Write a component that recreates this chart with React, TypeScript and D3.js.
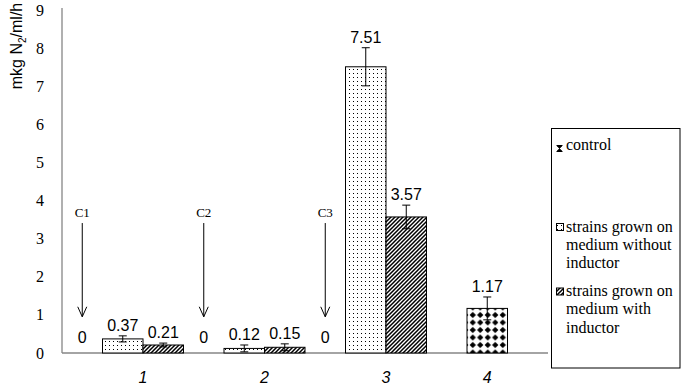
import React from "react";
import * as d3 from "d3";

const categories = ["1", "2", "3", "4"];
const seriesKeys = ["control", "without", "with"];
const legendLabels = [
  ["control"],
  ["strains grown on", "medium without", "inductor"],
  ["strains grown on", "medium with", "inductor"],
];
const controlValues: (number | null)[] = [0, 0, 0, null];
const withoutValues: (number | null)[] = [0.37, 0.12, 7.51, 1.17];
const withoutErrors: (number | null)[] = [0.08, 0.09, 0.5, 0.3];
const withValues: (number | null)[] = [0.21, 0.15, 3.57, null];
const withErrors: (number | null)[] = [0.05, 0.09, 0.31, null];
const yTicks = [0, 1, 2, 3, 4, 5, 6, 7, 8, 9];
const controlNotes = ["C1", "C2", "C3"];
const noteArrowTop = 3.41;
const noteArrowBottom = 0.95;
const noteLabelValue = 3.57;

const W = 684;
const H = 390;
const left = 62;
const right = 548;
const top = 10;
const bottom = 353;

const SANS = "Liberation Sans, Arial, sans-serif";
const SERIF = "Liberation Serif, Times New Roman, DejaVu Serif, serif";

export default function App() {
  const x0 = d3.scaleBand<string>().domain(categories).range([left, right]).padding(0);
  const x1 = d3.scaleBand<string>().domain(seriesKeys).range([0, x0.bandwidth()]).padding(0);
  const y = d3.scaleLinear().domain([0, 9]).range([bottom, top]);
  const bw = x1.bandwidth();

  const seriesData: { key: string; values: (number | null)[]; errors: (number | null)[] }[] = [
    { key: "control", values: controlValues, errors: controlValues.map(() => null) },
    { key: "without", values: withoutValues, errors: withoutErrors },
    { key: "with", values: withValues, errors: withErrors },
  ];

  const fillFor = (key: string, cat: string) => {
    if (key === "without") return cat === "4" ? "url(#diamond)" : "url(#dots)";
    if (key === "with") return "url(#hatch)";
    return "none";
  };

  const marks: React.ReactNode[] = [];
  const labels: React.ReactNode[] = [];
  categories.forEach((cat, ci) => {
    seriesData.forEach((s) => {
      const v = s.values[ci];
      if (v === null || v === undefined) return;
      const bx = (x0(cat) as number) + (x1(s.key) as number);
      const cx = bx + bw / 2;
      if (v > 0) {
        marks.push(
          <rect key={`b-${cat}-${s.key}`} x={bx} y={y(v)} width={bw} height={y(0) - y(v)}
            fill={fillFor(s.key, cat)} stroke="#000" strokeWidth={1} />
        );
      }
      const e = s.errors[ci];
      let labelY = y(0) - 10.5;
      if (e !== null && e !== undefined) {
        const yt = y(v + e);
        const yb = y(Math.max(0, v - e));
        marks.push(
          <g key={`e-${cat}-${s.key}`} stroke="#000" strokeWidth={1}>
            <line x1={cx} x2={cx} y1={yt} y2={yb} />
            <line x1={cx - 4} x2={cx + 4} y1={yt} y2={yt} />
            <line x1={cx - 4} x2={cx + 4} y1={yb} y2={yb} />
          </g>
        );
        labelY = yt - 5;
      }
      labels.push(
        <text key={`l-${cat}-${s.key}`} x={cx} y={labelY} textAnchor="middle"
          style={{ fontFamily: SANS, fontSize: 16 }} fill="#000">{String(v)}</text>
      );
    });
  });

  const catLabels = categories.map((cat, ci) => {
    const present = seriesData.filter((s) => s.key !== "control" && s.values[ci] !== null);
    const xs = present.map((s) => (x0(cat) as number) + (x1(s.key) as number));
    const cx = (d3.min(xs)! + d3.max(xs)! + bw) / 2;
    return (
      <text key={`c-${cat}`} x={cx} y={383} textAnchor="middle"
        style={{ fontFamily: SANS, fontSize: 16, fontStyle: "italic" }} fill="#000">{cat}</text>
    );
  });

  const notes = controlNotes.map((n, i) => {
    const cx = (x0(categories[i]) as number) + (x1("control") as number) + bw / 2;
    const yTop = y(noteArrowTop);
    const yBot = y(noteArrowBottom);
    return (
      <g key={`n-${n}`}>
        <text x={cx} y={y(noteLabelValue)} textAnchor="middle" style={{ fontFamily: SERIF, fontSize: 13 }} fill="#000">{n}</text>
        <line x1={cx} x2={cx} y1={yTop} y2={yBot} stroke="#000" strokeWidth={1} />
        <path d={`M${cx - 4.5},${yBot - 10}L${cx},${yBot}L${cx + 4.5},${yBot - 10}`} fill="none" stroke="#000" strokeWidth={1} />
      </g>
    );
  });

  const legendX = 551.5;
  const legendTextX = 566;
  const entryBaselines = [150, 231.5, 296];
  const lineH = 18.3;

  return (
    <svg width={W} height={H} viewBox={`0 0 ${W} ${H}`}
      style={{ position: "absolute", left: 0, top: 0, background: "#fff" }}>
      <defs>
        <pattern id="dots" patternUnits="userSpaceOnUse" width={4} height={4}>
          <rect width={4} height={4} fill="#fff" />
          <rect x={1} y={1} width={1} height={1} fill="#000" />
        </pattern>
        <pattern id="hatch" patternUnits="userSpaceOnUse" width={4} height={4}>
          <rect width={4} height={4} fill="#fff" />
          <path d="M-1,1 l2,-2 M0,4 l4,-4 M3,5 l2,-2" stroke="#000" strokeWidth={1.5} />
        </pattern>
        <pattern id="diamond" patternUnits="userSpaceOnUse" x={469} y={326.25} width={7.5} height={7.5}>
          <rect width={7.5} height={7.5} fill="#fff" />
          <path d="M3.75,0.6 L6.9,3.75 L3.75,6.9 L0.6,3.75 Z" fill="#000" />
        </pattern>
      </defs>
      <rect x={0} y={0} width={W} height={H} fill="#fff" />

      <line x1={left} x2={left} y1={top - 2} y2={bottom} stroke="#868686" strokeWidth={1.3} />
      <line x1={left} x2={right} y1={bottom} y2={bottom} stroke="#868686" strokeWidth={1.3} />

      {yTicks.map((t) => (
        <text key={`t-${t}`} x={44} y={y(t)} dy="0.35em" textAnchor="end"
          style={{ fontFamily: SERIF, fontSize: 16 }} fill="#000">{t}</text>
      ))}

      <text transform={`translate(22,46) rotate(-90)`} textAnchor="middle" style={{ fontFamily: SANS, fontSize: 16 }} fill="#000">
        mkg N<tspan style={{ fontSize: 10 }} dy={4}>2</tspan><tspan dy={-4}>/ml/h</tspan>
      </text>

      {marks}
      {labels}
      {notes}
      {catLabels}

      <rect x={legendX} y={128.5} width={680 - legendX} height={368 - 128.5} fill="#fff" stroke="#000" strokeWidth={1} />
      <g>
        <path d="M556.5,145.5h6M556.5,151.5h6" stroke="#000" strokeWidth={1} />
        <path d="M557,146L562,146L559.5,148.5Z M557,151L562,151L559.5,148.5Z" fill="#000" stroke="#000" strokeWidth={0.5} />
        <rect x={556.5} y={entryBaselines[1] - 8} width={7} height={7} fill="url(#dots)" stroke="#000" strokeWidth={1} />
        <rect x={556.5} y={entryBaselines[2] - 8} width={7} height={7} fill="url(#hatch)" stroke="#000" strokeWidth={1} />
        {legendLabels.map((lines, i) =>
          lines.map((ln, j) => (
            <text key={`lg-${i}-${j}`} x={legendTextX} y={entryBaselines[i] + j * lineH}
              style={{ fontFamily: SERIF, fontSize: 16 }} fill="#000">{ln}</text>
          ))
        )}
      </g>
    </svg>
  );
}
